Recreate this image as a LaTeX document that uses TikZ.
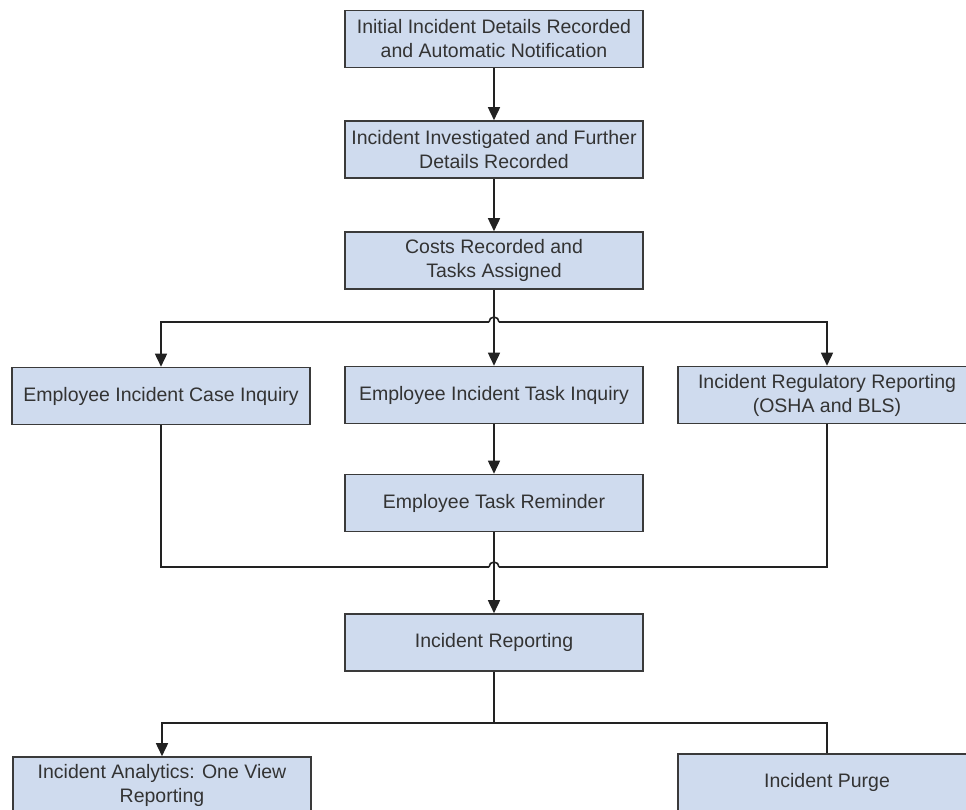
\documentclass[tikz,border=0pt]{standalone}
\usepackage{fontspec}
\setmainfont{Liberation Sans}
\usetikzlibrary{arrows.meta}
\definecolor{boxfill}{HTML}{CFDBEE}
\definecolor{boxline}{HTML}{3A3A3A}
\definecolor{txt}{HTML}{333333}
\definecolor{wire}{HTML}{222222}
\begin{document}
\begin{tikzpicture}[x=1pt,y=-1pt,
  box/.style={draw=boxline, line width=1.6pt, fill=boxfill, minimum width=298pt,
    minimum height=57pt, align=center, text=txt,
    font=\fontsize{19.5}{24}\selectfont, inner sep=0pt},
  conn/.style={draw=wire, line width=1.6pt},
  arr/.style={conn, -{Triangle[length=13pt,width=12pt]}}]
\useasboundingbox (0,0) rectangle (966,809);
\begin{scope}
\clip (0,0) rectangle (966,809);
\node[box] (b1) at (494,39) {Initial Incident Details Recorded\\and Automatic Notification};
\node[box] (b2) at (494,149.5) {Incident Investigated and Further\\Details Recorded};
\node[box] (b3) at (494,260.5) {Costs Recorded and\\Tasks Assigned};
\node[box] (case) at (161,396) {Employee Incident Case Inquiry};
\node[box] (task) at (494,395) {Employee Incident Task Inquiry};
\node[box] (reg) at (827,395) {Incident Regulatory Reporting\\(OSHA and BLS)};
\node[box] (rem) at (494,503) {Employee Task Reminder};
\node[box] (rep) at (494,642.5) {Incident Reporting};
\node[box] (ana) at (162,785.5) {Incident Analytics: One View\\Reporting};
\node[box] (purge) at (827,782.5) {Incident Purge};

\coordinate (h1l) at (489,322);
\coordinate (h1r) at (499,322);
\coordinate (h2l) at (489,567);
\coordinate (h2r) at (499,567);
\coordinate (j3) at (494,723);

\draw[arr] (b1) -- (b2);
\draw[arr] (b2) -- (b3);

\draw[arr] (h1l) -| (case.north);
\draw[arr] (h1r) -| (reg.north);
\draw[conn] (h1l) arc[start angle=180, end angle=0, radius=5pt];
\draw[arr] (b3.south) -- (task.north);

\draw[arr] (task) -- (rem);

\draw[conn] (case.south) |- (h2l);
\draw[conn] (reg.south) |- (h2r);
\draw[conn] (h2l) arc[start angle=180, end angle=0, radius=5pt];
\draw[arr] (rem.south) -- (rep.north);

\draw[conn] (rep.south) -- (j3);
\draw[arr] (j3) -| (ana.north);
\draw[conn] (j3) -| (purge.north);
\end{scope}
\end{tikzpicture}
\end{document}
